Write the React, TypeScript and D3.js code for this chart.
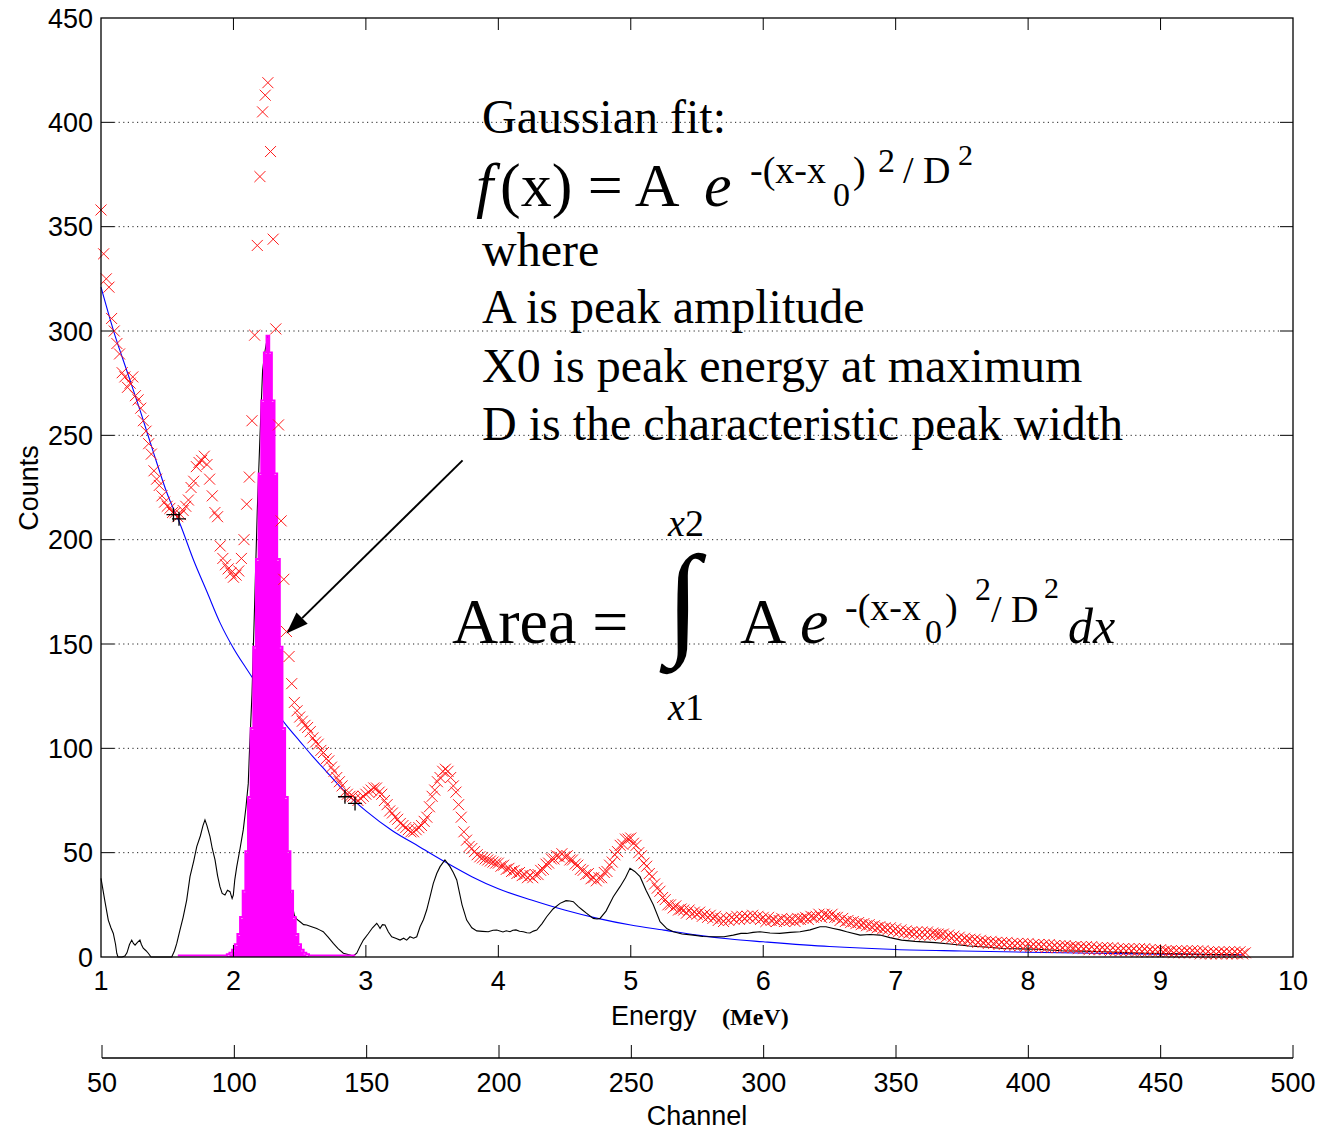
import React, { useEffect, useRef } from 'react'
import * as d3 from 'd3'

// gross spectrum, one value per channel, first value is channel 50 (E = channel / 50 MeV)
const firstChannel = 50
const grossCounts = [
  358, 337, 325, 321, 306, 300, 294, 289, 280, 278,
  273, 275, 278, 269, 267, 263, 257, 252, 246, 241,
  233, 229, 226, 221, 218, 216, 215, 213, 213, 211,
  212, 214, 216, 219, 225, 228, 235, 237, 238, 240,
  236, 229, 221, 213, 211, 197, 191, 188, 186, 184,
  182, 183, 185, 191, 200, 217, 230, 257, 298, 341,
  374, 405, 413, 419, 386, 344, 301, 255, 209, 181,
  156, 144, 131, 122, 118, 115, 113, 111, 110, 108,
  105, 103, 102, 99, 98, 95, 94, 91, 89, 86,
  84, 82, 79, 78, 77, 77, 76, 75, 76, 77,
  78, 79, 80, 81, 81, 79, 78, 75, 73, 70,
  69, 67, 66, 64, 63, 62, 61, 60, 60, 61,
  62, 63, 65, 67, 72, 77, 80, 84, 86, 89,
  90, 89, 86, 82, 79, 73, 67, 60, 56, 53,
  52, 50.5, 49, 48, 47.5, 47, 46.5, 46, 45.5, 45,
  45, 43.5, 44, 42, 42.5, 41, 41.5, 40, 40.5, 39,
  39.5, 38, 39, 38, 39.5, 39.5, 41.5, 42, 44.5, 45,
  47, 47, 48.5, 48, 49.5, 48, 48.5, 46.5, 46.5, 44.5,
  44, 42, 41.5, 39.5, 40, 37.5, 38, 36.5, 38, 38,
  40.5, 41, 44, 45.5, 49, 50.5, 53.5, 54, 56.5, 56.5,
  57, 54.5, 53.5, 50, 48.5, 45, 43.5, 40, 38.5, 35,
  33, 31.5, 28.5, 27.5, 25, 25, 23.5, 24.5, 22.5, 23,
  22.5, 21, 22.5, 20.5, 21.5, 20.5, 21.5, 19.5, 20.5, 19,
  20, 18.5, 19.5, 17.5, 18.5, 17, 18.5, 17.5, 19, 18,
  19.5, 18, 19.5, 18.5, 19.5, 18.5, 20, 18.5, 19.5, 18,
  19, 17, 19, 17.5, 18, 17, 17.5, 18.5, 17, 18,
  17.5, 18, 17, 18.5, 18, 18.5, 19, 18, 19.5, 19,
  19.5, 20.5, 19, 20.5, 20, 19.5, 20.5, 19, 19, 17.5,
  18.5, 17, 17.5, 16.5, 17, 16, 16.5, 15.5, 16, 15,
  15.5, 14.5, 15, 14, 14.5, 13.5, 14, 13, 14, 12.5,
  13.5, 12, 13, 11.5, 12.5, 11.5, 12, 11, 12, 10.5,
  12, 10.5, 12, 10.5, 11.5, 11, 11, 10.5, 11, 9.5,
  10.5, 9, 10, 8.5, 9.5, 8, 9, 8, 8.5, 7.5,
  8.5, 7, 8, 7, 7.5, 6.5, 7.5, 6.5, 7, 6,
  7, 6, 7, 5.5, 6.5, 5.5, 6.5, 5.5, 6.5, 5,
  6.5, 5, 6, 5, 6, 5, 6, 4.5, 6, 4.5,
  5.5, 4.5, 5.5, 4.5, 5.5, 4.5, 5, 4.5, 5, 4,
  5, 4, 5, 3.5, 5, 3.5, 4.5, 3.5, 4.5, 3.5,
  4.5, 3, 4.5, 3, 4, 3, 4, 3, 4, 3,
  4, 2.5, 4, 2.5, 4, 2.5, 3.5, 2.5, 3.5, 2.5,
  3.5, 2.5, 3, 2.5, 3, 2, 3, 2, 3, 2,
  3, 2, 3, 2, 3, 1.5, 3, 1.5, 2.5, 1.5,
  2.5, 1.5, 2.5, 1.5, 2.5, 1.5, 2.5, 1.5, 2.5, 1.5,
  2.5, 1.5, 2
]

// background fit (blue)
const bgEnergy = [1.0, 1.1, 1.2, 1.3, 1.4, 1.5, 1.6, 1.7, 1.8, 1.9, 2.0, 2.1, 2.2, 2.3, 2.4, 2.5, 2.6, 2.7, 2.8, 2.9, 3.0, 3.2, 3.4, 3.6, 3.8, 4.0, 4.25, 4.5, 4.75, 5.0, 5.25, 5.5, 5.75, 6.0, 6.5, 7.0, 7.5, 8.0, 8.5, 9.0, 9.62]
const bgCounts = [321, 299, 280, 261, 241, 222, 207, 190, 175, 160, 148, 138, 128.5, 119.5, 111, 103.5, 96, 89, 82, 75.5, 70, 60.5, 53, 45.5, 38.5, 32.7, 27.3, 22.5, 18.5, 15.3, 12.9, 10.5, 8.6, 7.3, 5, 3.6, 2.9, 2.3, 1.8, 1.4, 1.0]

// net spectrum (black)
const netEnergy = [
  1.0, 1.03, 1.055, 1.075, 1.093, 1.11, 1.119, 1.128, 1.159, 1.18, 1.196, 1.215, 1.232, 1.245, 1.257, 1.275, 1.294, 1.305, 1.319, 1.34, 1.357, 1.378,
  1.534, 1.555, 1.572, 1.596, 1.62, 1.647, 1.672, 1.7, 1.723, 1.75, 1.77, 1.785, 1.8, 1.823, 1.84, 1.861, 1.88, 1.898, 1.915, 1.936, 1.955, 1.974, 1.99, 1.999,
  2.01, 2.025, 2.05, 2.074, 2.095, 2.112, 2.12, 2.14, 2.16, 2.18, 2.2, 2.22, 2.24, 2.26, 2.28, 2.3, 2.32, 2.34, 2.36, 2.38, 2.4, 2.42, 2.44, 2.46, 2.48,
  2.503, 2.53, 2.553, 2.59, 2.629, 2.65, 2.678, 2.715, 2.754, 2.79, 2.83, 2.88, 2.905, 2.931, 2.955, 2.981, 3.016, 3.05, 3.082, 3.095, 3.107, 3.125, 3.144,
  3.17, 3.195, 3.225, 3.258, 3.285, 3.308, 3.333, 3.36, 3.384, 3.409, 3.435, 3.459, 3.485, 3.509, 3.535, 3.56, 3.597, 3.635, 3.66, 3.686, 3.726, 3.761,
  3.8, 3.837, 3.88, 3.924, 3.96, 3.988, 4.035, 4.06, 4.088, 4.11, 4.133, 4.16, 4.189, 4.215, 4.239, 4.265, 4.29, 4.33, 4.365, 4.413, 4.466, 4.511, 4.54,
  4.566, 4.604, 4.635, 4.667, 4.717, 4.745, 4.768, 4.813, 4.868, 4.919, 4.96, 4.994, 5.03, 5.07, 5.115, 5.17, 5.221, 5.274, 5.321, 5.387, 5.472, 5.545,
  5.623, 5.704, 5.774, 5.832, 5.875, 5.923, 5.976, 6.051, 6.126, 6.203, 6.278, 6.354, 6.429, 6.474, 6.529, 6.58, 6.63, 6.731, 6.806, 6.882, 6.957,
  7.045, 7.146, 7.297, 7.41, 7.554, 7.675, 7.811, 7.939, 8.064, 8.256, 8.415, 8.573, 8.732, 8.89, 9.049, 9.211, 9.373, 9.592
]
const netCounts = [
  37.7, 26.5, 17.7, 14, 11.3, 6, 1.8, 0, 0, 0.5, 2, 6, 8.1, 6.5, 5.7, 7, 8.1, 6, 4.2, 3, 1.8, 0,
  0, 3, 6.5, 12.9, 19, 27.3, 38.5, 46, 52.9, 58, 63, 65.7, 63, 57.7, 52, 46.5, 39, 33.7, 30.5, 29.7, 32, 31.3, 28, 29.7,
  37, 43.3, 52, 60.9, 72, 83.2, 97, 126, 169, 214, 249, 281, 291, 298, 266, 225, 183, 139, 94, 67, 48, 36, 26, 20, 18,
  16.9, 15.5, 15.3, 14.5, 13.7, 13, 12.1, 9.5, 6.5, 4, 1.8, 1, 0.5, 1.8, 5, 8.1, 11, 14, 16.1, 15, 13.7, 15.5, 15.3,
  12, 9.7, 9, 8.1, 9, 8.1, 9.7, 9, 9.7, 14.5, 18, 22.5, 29, 35.3, 40, 43.3, 46.5, 43.3, 40.5, 36.9, 25, 17.7,
  14, 12.5, 12.3, 12.1, 12.8, 12.9, 12, 12.6, 12.1, 12.8, 13, 12.3, 12.1, 11.6, 11.5, 12.4, 12.9, 16, 19.3, 23, 25.7, 27, 26.8,
  26.5, 24.1, 22.5, 20.9, 18.5, 18.2, 18.5, 22, 28.9, 33.7, 38, 42.5, 41, 38.5, 32, 25, 16.9, 13.5, 12.1, 11, 10.5, 9.8,
  9.7, 9.7, 10.5, 11.3, 11.3, 11.8, 12.1, 11.5, 11.3, 11.8, 12.1, 13, 14.5, 14.5, 13.7, 13, 12.1, 10.5, 10.8, 10.5, 9.3,
  8.1, 7.5, 6.9, 6.2, 5.3, 4.8, 4.1, 3.9, 3.7, 3.0, 2.8, 2.5, 2.1, 1.8, 1.6, 1.4, 1.2, 1.0
]

// gaussian fit of the 2.26 MeV peak, one value per channel from channel 79 to 146
const fitFirstChannel = 79
const fitCounts = [
  0, 0, 0, 0, 0, 0, 0, 0, 0, 0, 0, 0, 0, 0, 0, 0, 0, 0, 0,
  0.55, 1.3, 2.7, 5.4, 10.3, 18.5, 31, 50, 76, 109, 148, 190, 231, 266, 289,
  297, 289, 266, 231, 190, 148, 109, 76, 50, 31, 18.5, 10.3, 5.4, 2.7, 1.3, 0.55,
  0, 0, 0, 0, 0, 0, 0, 0, 0, 0, 0, 0, 0, 0, 0, 0, 0, 0
]

// fit region limits (black +)
const limitEnergy = [1.547, 1.589, 2.842, 2.918]
const limitCounts = [212, 210, 76.8, 73.6]

const energyTicks = [1, 2, 3, 4, 5, 6, 7, 8, 9, 10]
const countTicks = [0, 50, 100, 150, 200, 250, 300, 350, 400, 450]
const channelTicks = [50, 100, 150, 200, 250, 300, 350, 400, 450, 500]

const arrowFrom = [3.73, 238]
const arrowTo = [2.4, 155]

const SANS = "'Liberation Sans', Arial, Helvetica, sans-serif"
const SERIF = "'Liberation Serif', 'Times New Roman', serif"

export default function App() {
  const svgRef = useRef<SVGSVGElement>(null)

  useEffect(() => {
    const W = 1323, H = 1135
    const left = 101, right = 1293, top = 18, bottom = 957
    const svg = d3.select(svgRef.current).attr('width', W).attr('height', H)
    svg.selectAll('*').remove()
    svg.append('rect').attr('width', W).attr('height', H).attr('fill', '#fff')

    const x = d3.scaleLinear().domain([1, 10]).range([left, right])
    const y = d3.scaleLinear().domain([0, 450]).range([bottom, top])
    const xc = d3.scaleLinear().domain([50, 500]).range([102, right])

    // dotted grid
    svg.append('g').selectAll('line').data(countTicks.filter(v => v > 0 && v < 450)).join('line')
      .attr('x1', left + 13).attr('x2', right - 13).attr('y1', d => y(d)).attr('y2', d => y(d))
      .attr('stroke', '#222').attr('stroke-width', 1).attr('stroke-dasharray', '1.2,3.4')

    const pts = (xs: number[], ys: number[]) => xs.map((e, i) => [e, ys[i]] as [number, number])

    // background (blue)
    svg.append('path').datum(pts(bgEnergy, bgCounts))
      .attr('d', d3.line<[number, number]>().x(d => x(d[0])).y(d => y(d[1])).curve(d3.curveMonotoneX))
      .attr('fill', 'none').attr('stroke', '#0000ff').attr('stroke-width', 1.1)

    // net spectrum (black)
    svg.append('path').datum(pts(netEnergy, netCounts))
      .attr('d', d3.line<[number, number]>().x(d => x(d[0])).y(d => y(d[1])))
      .attr('fill', 'none').attr('stroke', '#000').attr('stroke-width', 1.1)

    // gaussian fit (magenta)
    const fit = fitCounts.map((c, i) => [(fitFirstChannel + i) / 50, c] as [number, number])
    svg.append('path').datum(fit)
      .attr('d', d3.area<[number, number]>().x(d => x(d[0])).y0(y(0)).y1(d => y(d[1])).curve(d3.curveStep))
      .attr('fill', '#ff00ff')
    svg.append('path').datum(fit)
      .attr('d', d3.line<[number, number]>().x(d => x(d[0])).y(d => y(d[1]) - 1.5).curve(d3.curveStep))
      .attr('fill', 'none').attr('stroke', '#ff00ff').attr('stroke-width', 2)

    // gross counts (red x)
    const gross = grossCounts.map((c, i) => [(firstChannel + i) / 50, c] as [number, number])
    svg.append('g').selectAll('path').data(gross).join('path')
      .attr('transform', d => `translate(${x(d[0])},${y(d[1])})`)
      .attr('d', 'M-5.5,-5.5L5.5,5.5M-5.5,5.5L5.5,-5.5')
      .attr('fill', 'none').attr('stroke', '#ff1a1a').attr('stroke-width', 1)

    // fit limits (black +)
    svg.append('g').selectAll('path').data(pts(limitEnergy, limitCounts)).join('path')
      .attr('transform', d => `translate(${x(d[0])},${y(d[1])})`)
      .attr('d', 'M-7,0H7M0,-7V7')
      .attr('fill', 'none').attr('stroke', '#000').attr('stroke-width', 1.3)

    // frame and ticks
    svg.append('rect').attr('x', left).attr('y', top).attr('width', right - left).attr('height', bottom - top)
      .attr('fill', 'none').attr('stroke', '#000').attr('stroke-width', 1.3)
    const tk = svg.append('g').attr('stroke', '#000').attr('stroke-width', 1)
    energyTicks.slice(1, -1).forEach(v => {
      tk.append('line').attr('x1', x(v)).attr('x2', x(v)).attr('y1', bottom).attr('y2', bottom - 12)
      tk.append('line').attr('x1', x(v)).attr('x2', x(v)).attr('y1', top).attr('y2', top + 12)
    })
    countTicks.slice(1, -1).forEach(v => {
      tk.append('line').attr('x1', left).attr('x2', left + 13).attr('y1', y(v)).attr('y2', y(v))
      tk.append('line').attr('x1', right).attr('x2', right - 13).attr('y1', y(v)).attr('y2', y(v))
    })

    const txt = (px: number, py: number, s: string, size: number, opts: any = {}) =>
      svg.append('text').attr('x', px).attr('y', py).text(s)
        .attr('font-family', opts.family || SANS).attr('font-size', size)
        .attr('font-style', opts.italic ? 'italic' : null).attr('font-weight', opts.bold ? 'bold' : null)
        .attr('text-anchor', opts.anchor || 'start').attr('fill', '#000')

    countTicks.forEach(v => txt(93, y(v) + 9.5, String(v), 27, { anchor: 'end' }))
    energyTicks.forEach(v => txt(x(v), 990, String(v), 27, { anchor: 'middle' }))
    txt(611, 1025, 'Energy', 27)
    txt(722, 1025, '(MeV)', 24, { family: SERIF, bold: true })
    svg.append('text').attr('transform', 'translate(38,488) rotate(-90)').attr('text-anchor', 'middle')
      .attr('font-family', SANS).attr('font-size', 27).text('Counts')

    // channel axis
    svg.append('line').attr('x1', xc(50)).attr('x2', xc(500)).attr('y1', 1058).attr('y2', 1058)
      .attr('stroke', '#000').attr('stroke-width', 1.3)
    channelTicks.forEach(v => {
      svg.append('line').attr('x1', xc(v)).attr('x2', xc(v)).attr('y1', 1058).attr('y2', 1045).attr('stroke', '#000')
      txt(xc(v), 1092, String(v), 27, { anchor: 'middle' })
    })
    txt(697, 1125, 'Channel', 27, { anchor: 'middle' })

    // annotation text
    const S = { family: SERIF }
    txt(482, 133, 'Gaussian fit:', 48, S)
    txt(476, 206, 'f', 62, { family: SERIF, italic: true })
    txt(500, 206, '(x) = A', 62, S)
    txt(704, 206, 'e', 62, { family: SERIF, italic: true })
    txt(750, 183, '-(x-x', 38, S)
    txt(833, 206, '0', 34, S)
    txt(853, 183, ')', 38, S)
    txt(878, 172, '2', 34, S)
    txt(903, 183, '/ D', 38, S)
    txt(958, 165, '2', 30, S)
    txt(482, 266, 'where', 48, S)
    txt(482, 323, 'A is peak amplitude', 48, S)
    txt(482, 382, 'X0 is peak energy at maximum', 48, S)
    txt(482, 440, 'D is the characteristic peak width', 48, S)

    txt(452, 643, 'Area =', 64, S)
    txt(666, 641, '\u222B', 124, { family: SERIF, bold: true })
    const up = txt(668, 536, '', 38, S)
    up.append('tspan').attr('font-style', 'italic').text('x')
    up.append('tspan').text('2')
    const lo = txt(668, 720, '', 38, S)
    lo.append('tspan').attr('font-style', 'italic').text('x')
    lo.append('tspan').text('1')
    txt(740, 643, 'A', 64, S)
    txt(800, 643, 'e', 64, { family: SERIF, italic: true })
    txt(845, 620, '-(x-x', 38, S)
    txt(925, 643, '0', 34, S)
    txt(945, 620, ')', 38, S)
    txt(975, 600, '2', 32, S)
    txt(991, 622, '/ D', 38, S)
    txt(1044, 598, '2', 30, S)
    txt(1068, 643, 'dx', 50, { family: SERIF, italic: true })

    // arrow
    const [ax0, ay0, ax1, ay1] = [x(arrowFrom[0]), y(arrowFrom[1]), x(arrowTo[0]), y(arrowTo[1])]
    const ang = Math.atan2(ay1 - ay0, ax1 - ax0)
    const hl = 22, hw = 8
    const bx = ax1 - hl * Math.cos(ang), by = ay1 - hl * Math.sin(ang)
    svg.append('line').attr('x1', ax0).attr('y1', ay0).attr('x2', bx).attr('y2', by).attr('stroke', '#000').attr('stroke-width', 2)
    svg.append('path')
      .attr('d', `M${ax1},${ay1}L${bx + hw * Math.sin(ang)},${by - hw * Math.cos(ang)}L${bx - hw * Math.sin(ang)},${by + hw * Math.cos(ang)}Z`)
      .attr('fill', '#000')
  }, [])

  return (
    <div style={{ position: 'absolute', left: 0, top: 0 }}>
      <svg ref={svgRef}></svg>
    </div>
  )
}
